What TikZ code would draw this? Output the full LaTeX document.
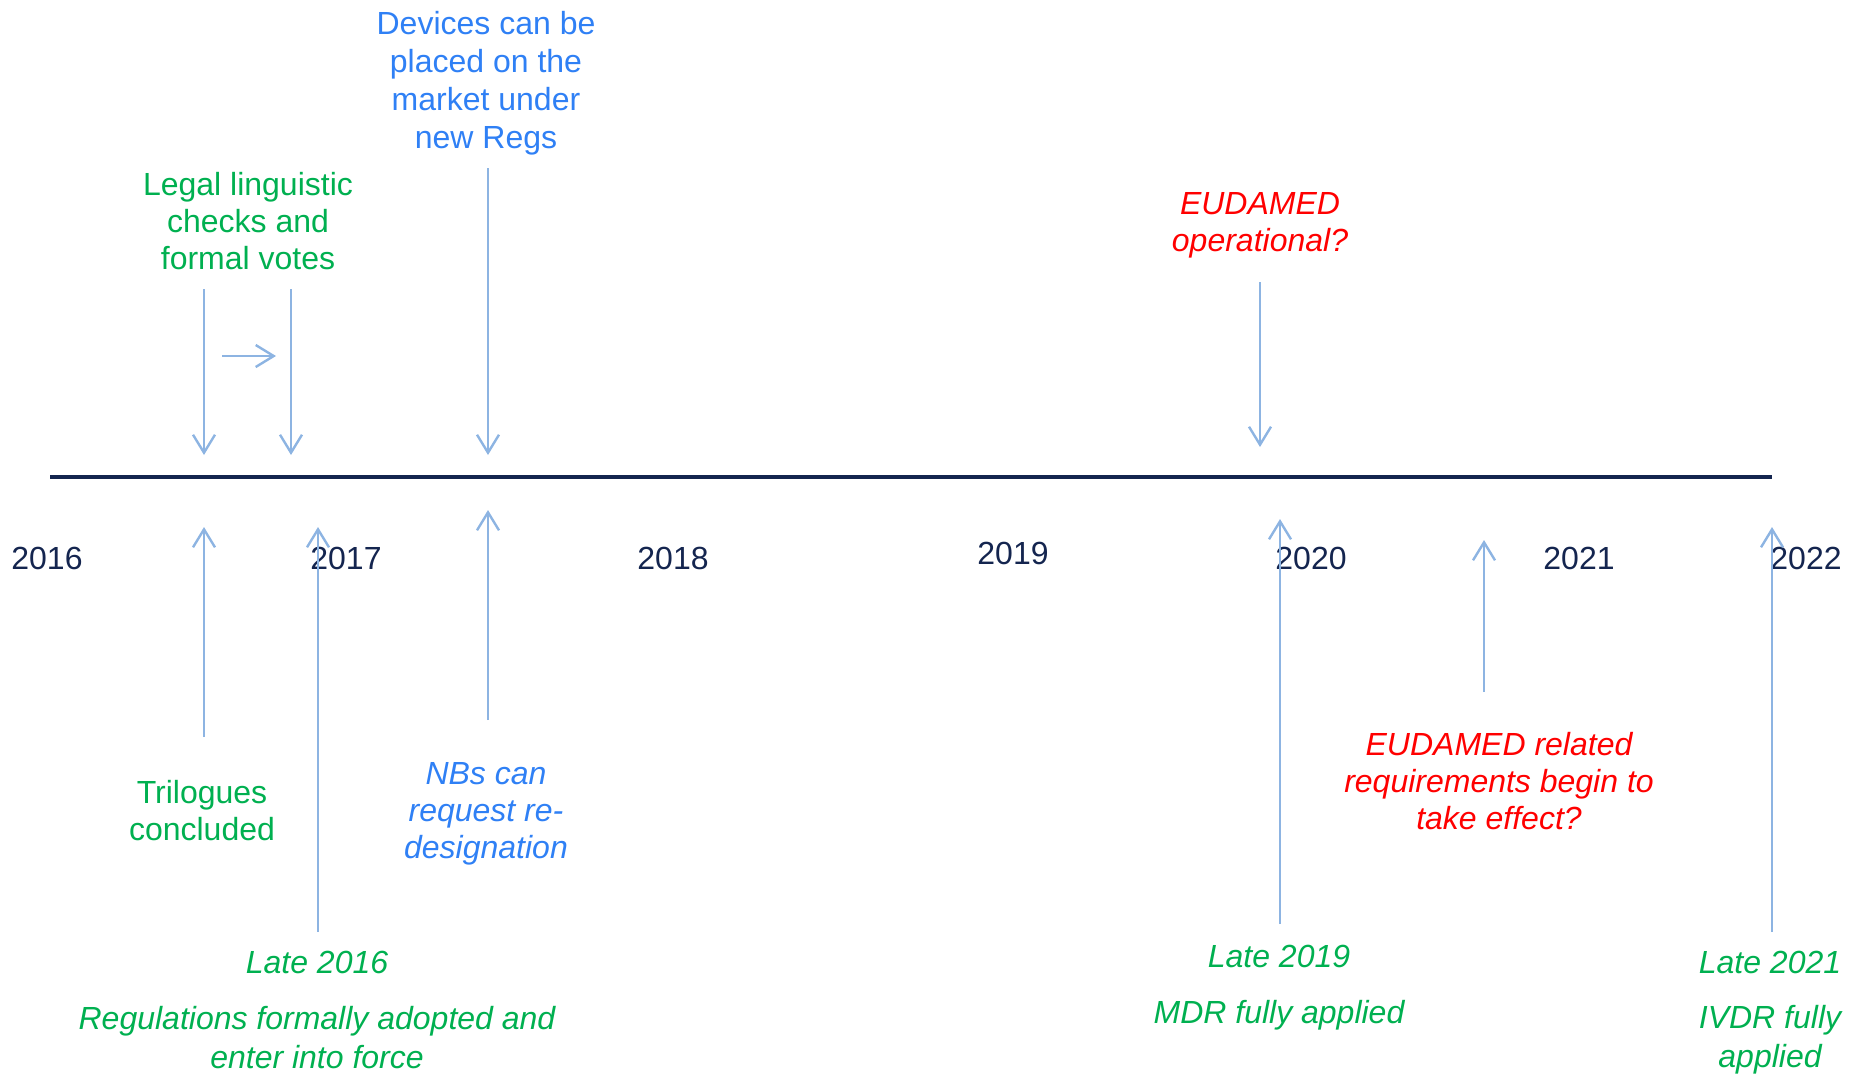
\documentclass[tikz,border=0pt]{standalone}
\usepackage{fontspec}
\setmainfont{Liberation Sans}
\usetikzlibrary{arrows.meta}
\definecolor{navy}{HTML}{14254F}
\definecolor{arrowblue}{HTML}{8DB4E2}
\definecolor{txtblue}{HTML}{2F80F5}
\definecolor{txtgreen}{HTML}{00B050}
\definecolor{txtred}{HTML}{FF0000}
\tikzset{
  lbl/.style={font=\fontsize{16}{18.5}\selectfont, align=center, inner sep=0pt},
  greenlbl/.style={lbl, text=txtgreen},
  greenit/.style={lbl, text=txtgreen, font=\fontsize{16}{19.5}\selectfont\itshape},
  bluelbl/.style={lbl, text=txtblue},
  blueit/.style={lbl, text=txtblue, font=\fontsize{16}{18.5}\selectfont\itshape},
  redit/.style={lbl, text=txtred, font=\fontsize{16}{18.5}\selectfont\itshape},
  yearlbl/.style={lbl, text=navy},
  evarrow/.style={draw=arrowblue, line width=1.2pt, -{Straight Barb[length=9pt,width=11pt,line width=1.2pt]}},
  axis/.style={draw=navy, line width=1.6pt}
}
\begin{document}
\begin{tikzpicture}[x=0.5pt,y=-0.5pt]
\useasboundingbox (0,0) rectangle (1850,1073);
% axis
\coordinate (axL) at (50,477);
\coordinate (axR) at (1772,477);
\draw[axis] (axL) -- (axR);
% years
\node[yearlbl] (y2016) at (47,558) {2016};
\node[yearlbl] (y2017) at (346,558) {2017};
\node[yearlbl] (y2018) at (673,558) {2018};
\node[yearlbl] (y2019) at (1013,553) {2019};
\node[yearlbl] (y2020) at (1311,558) {2020};
\node[yearlbl] (y2021) at (1579,558) {2021};
\node[yearlbl] (y2022) at (1806,558) {2022};
% top labels
\node[bluelbl, font=\fontsize{16}{19}\selectfont] (devices) at (486,83) {Devices can be\\placed on the\\market under\\new Regs};
\node[greenlbl] (legal) at (248,221) {Legal linguistic\\checks and\\formal votes};
\node[redit] (eudop) at (1260,225) {EUDAMED\\operational?};
% bottom labels
\node[greenlbl] (trilog) at (202,811) {Trilogues\\concluded};
\node[greenit] (late16) at (317,962) {Late 2016};
\node[greenit] (regs) at (317,1037.5) {Regulations formally adopted and\\enter into force};
\node[blueit] (nbs) at (486,814) {NBs can\\request re-\\designation};
\node[redit] (eudrel) at (1499,781) {EUDAMED related\\requirements begin to\\take effect?};
\node[greenit] (late19) at (1279,956) {Late 2019};
\node[greenit] (mdr) at (1279,1015) {MDR fully applied};
\node[greenit] (late21) at (1770,962) {Late 2021};
\node[greenit] (ivdr) at (1770,1040) {IVDR fully\\applied};
% down arrows
\coordinate (d1s) at (204,289); \coordinate (d1e) at (204,455);
\coordinate (d2s) at (291,289); \coordinate (d2e) at (291,455);
\coordinate (d3s) at (488,168); \coordinate (d3e) at (488,455);
\coordinate (d4s) at (1260,282); \coordinate (d4e) at (1260,447);
\draw[evarrow] (d1s) -- (d1e);
\draw[evarrow] (d2s) -- (d2e);
\draw[evarrow] (d3s) -- (d3e);
\draw[evarrow] (d4s) -- (d4e);
% small horizontal arrow
\coordinate (hs) at (222,356); \coordinate (he) at (276,356);
\draw[evarrow] (hs) -- (he);
% up arrows
\coordinate (u1s) at (204,737); \coordinate (u1e) at (204,527);
\coordinate (u2s) at (318,932); \coordinate (u2e) at (318,527);
\coordinate (u3s) at (488,720); \coordinate (u3e) at (488,510);
\coordinate (u4s) at (1280,924); \coordinate (u4e) at (1280,519);
\coordinate (u5s) at (1484,692); \coordinate (u5e) at (1484,540);
\coordinate (u6s) at (1772,932); \coordinate (u6e) at (1772,527);
\draw[evarrow] (u1s) -- (u1e);
\draw[evarrow] (u2s) -- (u2e);
\draw[evarrow] (u3s) -- (u3e);
\draw[evarrow] (u4s) -- (u4e);
\draw[evarrow] (u5s) -- (u5e);
\draw[evarrow] (u6s) -- (u6e);
\end{tikzpicture}
\end{document}
